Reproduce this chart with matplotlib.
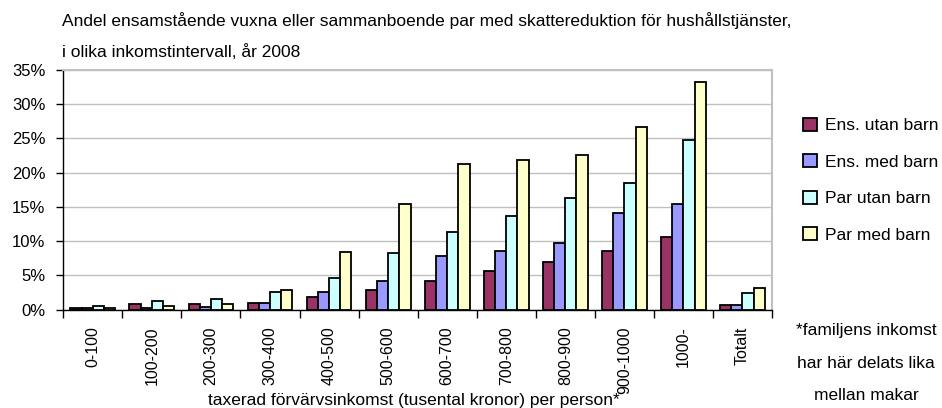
import numpy as np
import matplotlib
matplotlib.use('Agg')
import matplotlib.pyplot as plt
from matplotlib.ticker import FuncFormatter

plt.rcParams['font.family'] = ['Liberation Sans', 'DejaVu Sans']

categories = ['0-100', '100-200', '200-300', '300-400', '400-500', '500-600',
              '600-700', '700-800', '800-900', '900-1000', '1000-', 'Totalt']
ens_utan = [0.2, 0.8, 0.8, 1.0, 1.8, 2.9, 4.1, 5.6, 7.0, 8.6, 10.6, 0.7]
ens_med = [0.2, 0.2, 0.4, 1.0, 2.6, 4.1, 7.8, 8.6, 9.7, 14.1, 15.4, 0.7]
par_utan = [0.5, 1.25, 1.5, 2.6, 4.6, 8.3, 11.35, 13.6, 16.3, 18.5, 24.8, 2.4]
par_med = [0.25, 0.5, 0.8, 2.9, 8.4, 15.4, 21.2, 21.8, 22.6, 26.7, 33.3, 3.1]
series = ['Ens. utan barn', 'Ens. med barn', 'Par utan barn', 'Par med barn']
colors = ['#993366', '#9999ff', '#ccffff', '#ffffcc']

fig = plt.figure(figsize=(9.42, 4.08), dpi=100)
ax = fig.add_axes([0.0672, 0.2414, 0.7523, 0.587])

x = np.arange(len(categories))
w = 0.19
bars = []
for i, (vals, c) in enumerate(zip([ens_utan, ens_med, par_utan, par_med], colors)):
    b = ax.bar(x + (i - 1.5) * w, vals, w, color=c, edgecolor='black',
               linewidth=1.3, label=series[i], zorder=3)
    bars.append(b)

ax.set_xlim(-0.5, len(categories) - 0.5)
ax.set_ylim(0, 35)
ax.set_yticks(np.arange(0, 36, 5))
ax.yaxis.set_major_formatter(FuncFormatter(lambda v, p: '%d%%' % v))
ax.grid(axis='y', color='#c0c0c0', linewidth=1, zorder=0)

ax.set_xticks(x)
ax.set_xticklabels(categories, rotation=90, fontsize=11.5)
ax.tick_params(axis='x', length=0, pad=12)
ax.set_xticks(np.arange(-0.5, len(categories)), minor=True)
ax.tick_params(axis='x', which='minor', length=6, width=1, direction='out')
ax.tick_params(axis='y', length=5, width=1, direction='out', labelsize=12, pad=8)

for s in ['top', 'right']:
    ax.spines[s].set_color('#c0c0c0')
    ax.spines[s].set_linewidth(1.5)
for s in ['left', 'bottom']:
    ax.spines[s].set_color('black')
    ax.spines[s].set_linewidth(1)

fig.text(414 / 942, 1 - 400 / 408,
         'taxerad förvärvsinkomst (tusental kronor) per person*',
         fontsize=12.5, ha='center', va='center')

fig.text(62 / 942, 1 - 21 / 408,
         'Andel ensamstående vuxna eller sammanboende par med skattereduktion för hushållstjänster,',
         fontsize=12.5, va='center', ha='left')
fig.text(62 / 942, 1 - 52 / 408, 'i olika inkomstintervall, år 2008',
         fontsize=12.5, va='center', ha='left')

fig.legend(handles=bars, labels=series, loc='upper left',
           bbox_to_anchor=(787 / 942, 1 - 102 / 408), frameon=False,
           fontsize=12.5, handlelength=0.8, handleheight=0.8,
           handletextpad=0.5, labelspacing=1.2)

for txt, yy in [('*familjens inkomst', 330), ('har här delats lika', 363),
                ('mellan makar', 395)]:
    fig.text(866 / 942, 1 - yy / 408, txt, fontsize=12.5, ha='center', va='center')

plt.savefig('out.png', dpi=100)
